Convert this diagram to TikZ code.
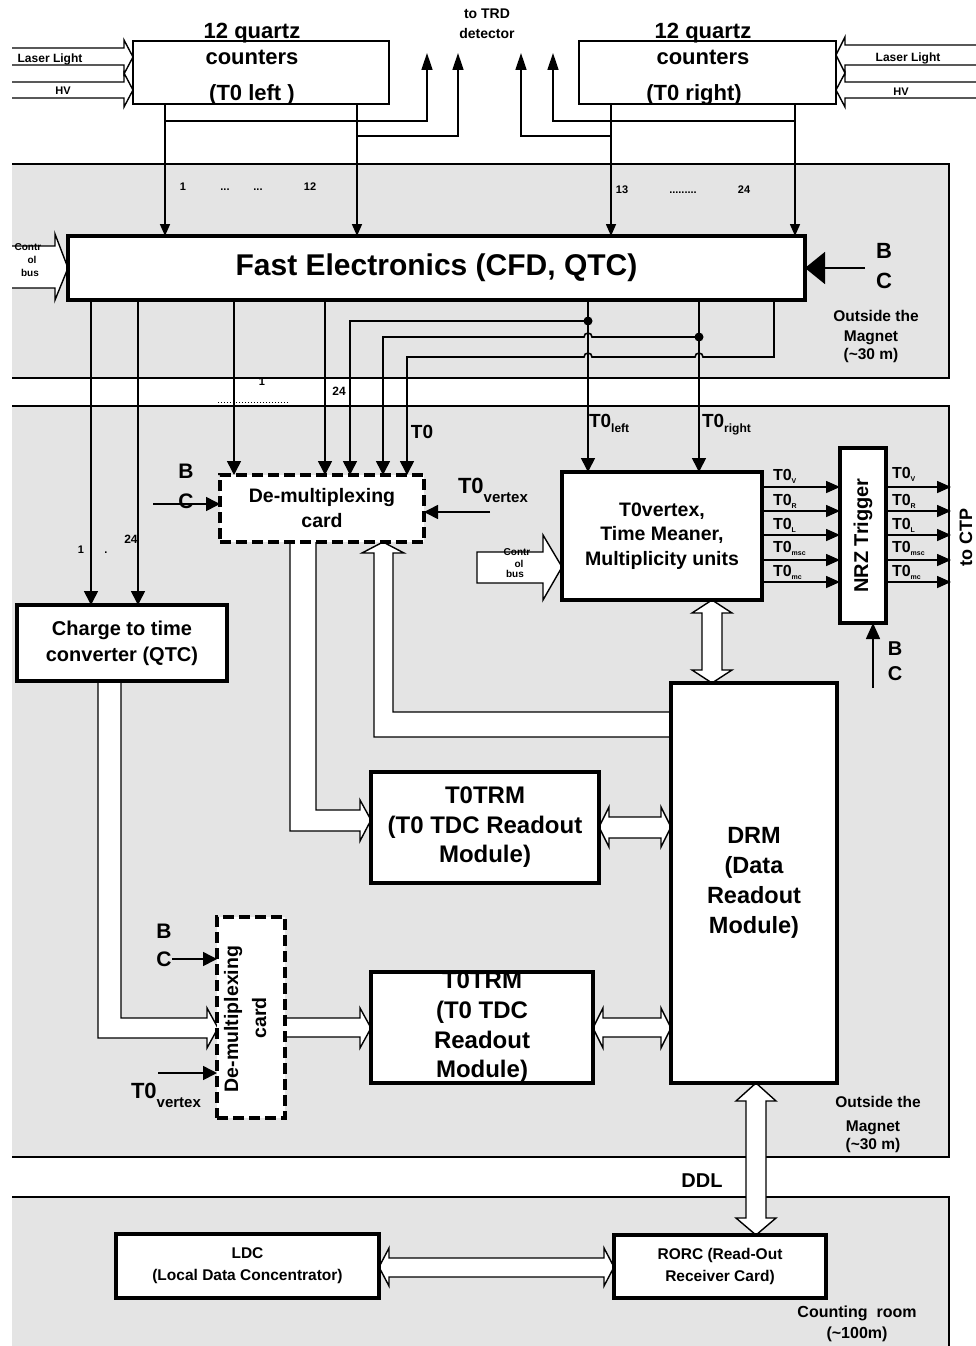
\documentclass[tikz,border=0pt]{standalone}
\usepackage{fontspec}
\setmainfont{Liberation Sans}
\usetikzlibrary{arrows.meta}
\pgfdeclarelayer{background}
\pgfsetlayers{background,main}
\newcommand{\fsz}[2]{\fontsize{#1}{#2}\selectfont}
\newcommand{\lo}[2]{\raisebox{-#1}{#2}}
\definecolor{panelgray}{HTML}{E4E4E4}
\begin{document}
\begin{tikzpicture}[x=1pt,y=-1pt,
  ln/.style={line width=1.6pt},
  arr/.style={ln,-{Triangle[length=12pt,width=10pt]}},
  arrb/.style={ln,-{Triangle[length=14pt,width=14pt]}},
  arro/.style={ln,-{Triangle[length=14pt,width=12pt]}},
  arrt/.style={ln,-{Triangle[length=17pt,width=11pt]}},
  fat/.style={draw,fill=white,line width=1.4pt,line join=miter},
  box/.style={draw,fill=white,line width=4.5pt,inner sep=0pt,outer sep=0pt,anchor=north west,align=center,font=\bfseries},
  qbox/.style={box,line width=1.5pt},
  dbox/.style={box,line width=4pt,dash pattern=on 11pt off 5pt},
  txt/.style={inner sep=0pt,outer sep=0pt,anchor=base,font=\bfseries},
  tsz/.style={font=\bfseries\fontsize{#1}{#1}\selectfont},
  tsztwo/.style 2 args={font=\bfseries\fontsize{#1}{#2}\selectfont},
]
\useasboundingbox (0,0) rectangle (976,1346);

% ---------- boxes ----------
\node[qbox,minimum width=256pt,minimum height=63pt] (ql) at (133,41) {};
\node[qbox,minimum width=257pt,minimum height=63pt] (qr) at (579,41) {};
\node[box,minimum width=737pt,minimum height=64pt,tsztwo={30}{30}] (fe) at (68,236) {Fast Electronics (CFD, QTC)};
\node[dbox,minimum width=204pt,minimum height=67pt,tsztwo={19.5}{25}] (dm1) at (220,475) {De-multiplexing\\card};
\node[box,minimum width=210pt,minimum height=76pt,tsztwo={20}{26}] (qtc) at (17,605) {Charge to time\\converter (QTC)};
\node[box,minimum width=200pt,minimum height=128pt,tsztwo={19.5}{24.5}] (tv) at (562,472) {T0vertex,\\Time Meaner,\\Multiplicity units};
\node[box,minimum width=46pt,minimum height=175pt,tsztwo={20}{20}] (nrz) at (840,448) {\rotatebox{90}{NRZ Trigger}};
\node[box,minimum width=166pt,minimum height=400pt,tsztwo={23.5}{30}] (drm) at (671,683) {DRM\\(Data\\Readout\\Module)};
\node[box,minimum width=228pt,minimum height=111pt,tsztwo={24}{29.5}] (trma) at (371,772) {T0TRM\\(T0 TDC Readout\\Module)};
\node[box,minimum width=222pt,minimum height=111pt,tsztwo={24}{29.7}] (trmb) at (371,972) {T0TRM\\(T0 TDC\\Readout\\Module)};
\node[dbox,minimum width=68pt,minimum height=201pt] (dm2) at (217,917) {};
\node[box,line width=4pt,minimum width=263pt,minimum height=64pt,tsztwo={15.5}{22}] (ldc) at (116,1234) {LDC\\(Local Data Concentrator)};
\node[box,line width=4pt,minimum width=212pt,minimum height=63pt,tsztwo={15.5}{22}] (rorc) at (614,1235) {RORC (Read-Out\\Receiver Card)};

\begin{pgfonlayer}{background}
% ---------- panels ----------
\fill[panelgray] (12,164) rectangle (949,378);
\draw[ln] (12,164) -- (949,164) -- (949,378) -- (12,378);
\fill[panelgray] (12,406) rectangle (949,1157);
\draw[ln] (12,406) -- (949,406) -- (949,1157) -- (12,1157);
\fill[panelgray] (12,1197) rectangle (949,1346);
\draw[ln] (12,1197) -- (949,1197) -- (949,1346);

% ---------- laser / HV ----------
\draw[fat] (12,48) -- (124,48) -- (124,40) -- (133,57) -- (124,74) -- (124,65) -- (12,65);
\draw[fat] (12,82) -- (124,82) -- (124,73) -- (133,90) -- (124,107) -- (124,98) -- (12,98);
\draw[fat] (976,45) -- (845,45) -- (845,37) -- (836,55) -- (845,73) -- (845,65) -- (976,65);
\draw[fat] (976,82) -- (845,82) -- (845,73) -- (836,90) -- (845,107) -- (845,98) -- (976,98);

% ---------- counters to FE and TRD ----------
\draw[arr] (165,0 |- ql.south) -- (165,0 |- fe.north);
\draw[arr] (357,0 |- ql.south) -- (357,0 |- fe.north);
\draw[arr] (611,0 |- qr.south) -- (611,0 |- fe.north);
\draw[arr] (795,0 |- qr.south) -- (795,0 |- fe.north);
\draw[arrt] (165,121) -- (427,121) -- (427,53);
\draw[arrt] (357,136) -- (458,136) -- (458,53);
\draw[arrt] (795,121) -- (553,121) -- (553,53);
\draw[arrt] (611,136) -- (521,136) -- (521,53);

% ---------- FE control bus, BC ----------
\draw[fat] (12,246) -- (55,246) -- (55,234) -- (fe.west) -- (55,300) -- (55,288) -- (12,288);
\draw[ln,-{Triangle[length=20pt,width=32pt]}] (865,268) -- (fe.east);

% ---------- FE outputs ----------
\draw[arrb] (91,0 |- fe.south) -- (91,0 |- qtc.north);
\draw[arrb] (138,0 |- fe.south) -- (138,0 |- qtc.north);
\draw[arrb] (234,0 |- fe.south) -- (234,0 |- dm1.north);
\draw[arrb] (325,0 |- fe.south) -- (325,0 |- dm1.north);
\draw[arrb] (588,321) -- (350,321) -- (350,0 |- dm1.north);
\draw[arrb] (699,337) -- (592,337) arc[start angle=0,end angle=-180,radius=4] -- (383,337) -- (383,0 |- dm1.north);
\draw[arrb] (774,0 |- fe.south) -- (774,357) -- (703,357) arc[start angle=0,end angle=-180,radius=4]
   -- (592,357) arc[start angle=0,end angle=-180,radius=4] -- (407,357) -- (407,0 |- dm1.north);
\draw[arrb] (588,0 |- fe.south) -- (588,0 |- tv.north);
\draw[arrb] (699,0 |- fe.south) -- (699,0 |- tv.north);
\fill (588,321) circle[radius=4.5pt];
\fill (699,337) circle[radius=4.5pt];
\draw[line width=1pt,dotted] (218,402) -- (288,402);

% ---------- demux 1 inputs ----------
\draw[arrb] (153,504) -- (220,504);
\draw[arrb] (490,512) -- (424,512);

% ---------- T0vertex ----------
\draw[fat] (477,552) -- (543,552) -- (543,535) -- (562,567) -- (543,600) -- (543,583) -- (477,583) -- cycle;
\foreach \yy in {487,511,535,560,582} {
  \draw[arro] (763,\yy) -- (840,\yy);
  \draw[arro] (886,\yy) -- (951,\yy);
}
\draw[ln,-{Triangle[length=16pt,width=14pt]}] (873,688) -- (873,0 |- nrz.south);
\draw[fat] (712,600) -- (732,613) -- (722,613) -- (722,670) -- (732,670) -- (712,683) -- (692,670) -- (702,670) -- (702,613) -- (692,613) -- cycle;

% ---------- wide buses ----------
\draw[fat] (671,712) -- (393,712) -- (393,553) -- (404,553) -- (383,542) -- (362,553) -- (374,553) -- (374,737) -- (671,737);
\draw[fat] (316,542) -- (316,810) -- (360,810) -- (360,800) -- (371,820) -- (360,841) -- (360,831) -- (290,831) -- (290,542);
\draw[fat] (599,827) -- (609,807) -- (609,817) -- (661,817) -- (661,807) -- (671,827) -- (661,847) -- (661,838) -- (609,838) -- (609,847) -- cycle;
\draw[fat] (121,681) -- (121,1018) -- (207,1018) -- (207,1008) -- (218,1028) -- (207,1048) -- (207,1038) -- (98,1038) -- (98,681);
\draw[fat] (285,1018) -- (360,1018) -- (360,1008) -- (371,1028) -- (360,1048) -- (360,1037) -- (285,1037);
\draw[fat] (593,1028) -- (603,1008) -- (603,1018) -- (661,1018) -- (661,1008) -- (671,1028) -- (661,1048) -- (661,1037) -- (603,1037) -- (603,1048) -- cycle;
\draw[arrb] (172,959) -- (217,959);
\draw[arrb] (158,1073) -- (217,1073);
\draw[fat] (756,1083) -- (776,1101) -- (766,1101) -- (766,1218) -- (776,1218) -- (756,1235) -- (736,1218) -- (746,1218) -- (746,1101) -- (736,1101) -- cycle;
\draw[fat] (379,1267) -- (389,1248) -- (389,1258) -- (604,1258) -- (604,1248) -- (614,1267) -- (604,1286) -- (604,1277) -- (389,1277) -- (389,1286) -- cycle;
\end{pgfonlayer}

% ---------- texts ----------
\node[txt,tsz=14] (trd1) at (487,19) {to TRD};
\node[txt,tsz=14] (trd2) at (487,38) {detector};
\node[txt,tsz=22] (qla) at (252,39) {12 quartz};
\node[txt,tsz=22] (qlb) at (252,65) {counters};
\node[txt,tsz=22] (qlc) at (252,100) {(T0 left )};
\node[txt,tsz=22] (qra) at (703,39) {12 quartz};
\node[txt,tsz=22] (qrb) at (703,65) {counters};
\node[txt,tsz=22] (qrc) at (694,100) {(T0 right)};
\node[txt,tsz=12] (lla) at (50,63) {Laser Light};
\node[txt,tsz=11] (hva) at (63,94) {HV};
\node[txt,tsz=12] (llb) at (908,62) {Laser Light};
\node[txt,tsz=11] (hvb) at (901,95) {HV};

\node[txt,tsz=11] (n1) at (183,190) {1};
\node[txt,tsz=11] (n2) at (225,190) {...};
\node[txt,tsz=11] (n3) at (258,190) {...};
\node[txt,tsz=11] (n4) at (310,190) {12};
\node[txt,tsz=11] (n5) at (622,193) {13};
\node[txt,tsz=11] (n6) at (683,193) {.........};
\node[txt,tsz=11] (n7) at (744,193) {24};

\node[txt,tsz=10] (cb1) at (28,250) {Contr};
\node[txt,tsz=10] (cb2) at (32,263) {ol};
\node[txt,tsz=10] (cb3) at (30,276) {bus};
\node[txt,tsz=22] (bc1b) at (884,258) {B};
\node[txt,tsz=22] (bc1c) at (884,288) {C};
\node[txt,tsz=15.5] (om1) at (876,321) {Outside the};
\node[txt,tsz=15.5] (om2) at (871,341) {Magnet};
\node[txt,tsz=15.5] (om3) at (871,359) {(\textasciitilde30 m)};

\node[txt,tsz=11] (g1) at (262,385) {1};
\node[txt,tsz=12] (g2) at (339,395) {24};
\node[txt,tsz=19] (t0a) at (422,438) {T0};
\node[txt,anchor=base west,tsz=19] (t0l) at (589,427) {T0\lo{5pt}{\fsz{12}{12}left}};
\node[txt,anchor=base west,tsz=19] (t0r) at (702,427) {T0\lo{5pt}{\fsz{12}{12}right}};

\node[txt,tsz=21] (bc2b) at (186,478) {B};
\node[txt,tsz=21] (bc2c) at (186,508) {C};
\node[txt,anchor=base west,tsz=22] (t0v1) at (458,493) {T0\lo{9pt}{\fsz{15}{15}vertex}};
\node[txt,tsz=11] (q1) at (81,553) {1};
\node[txt,tsz=11] (q2) at (106,553) {.};
\node[txt,tsz=12] (q3) at (131,543) {24};

\node[txt,tsz=10] (cb4) at (517,555) {Contr};
\node[txt,tsz=10] (cb5) at (519,567) {ol};
\node[txt,tsz=10] (cb6) at (515,577) {bus};

\node[txt,anchor=base west,tsz=16] (la1) at (773,480) {T0\lo{3pt}{\fsz{7}{7}V}};
\node[txt,anchor=base west,tsz=16] (la2) at (773,505) {T0\lo{3pt}{\fsz{7}{7}R}};
\node[txt,anchor=base west,tsz=16] (la3) at (773,529) {T0\lo{3pt}{\fsz{7}{7}L}};
\node[txt,anchor=base west,tsz=16] (la4) at (773,552) {T0\lo{3pt}{\fsz{7}{7}msc}};
\node[txt,anchor=base west,tsz=16] (la5) at (773,576) {T0\lo{3pt}{\fsz{7}{7}mc}};
\node[txt,anchor=base west,tsz=16] (lb1) at (892,478) {T0\lo{3pt}{\fsz{7}{7}V}};
\node[txt,anchor=base west,tsz=16] (lb2) at (892,505) {T0\lo{3pt}{\fsz{7}{7}R}};
\node[txt,anchor=base west,tsz=16] (lb3) at (892,529) {T0\lo{3pt}{\fsz{7}{7}L}};
\node[txt,anchor=base west,tsz=16] (lb4) at (892,552) {T0\lo{3pt}{\fsz{7}{7}msc}};
\node[txt,anchor=base west,tsz=16] (lb5) at (892,576) {T0\lo{3pt}{\fsz{7}{7}mc}};
\node[txt,anchor=center,rotate=90,tsz=18] (ctp) at (966,537) {to CTP};
\node[txt,tsz=20] (bc3b) at (895,655) {B};
\node[txt,tsz=20] (bc3c) at (895,680) {C};

\node[txt,rotate=90,tsz=19.5] (dm2a) at (238,1019) {De-multiplexing};
\node[txt,rotate=90,tsz=19.5] (dm2b) at (266,1018) {card};
\node[txt,tsz=21] (bc4b) at (164,938) {B};
\node[txt,tsz=21] (bc4c) at (164,966) {C};
\node[txt,anchor=base west,tsz=22] (t0v2) at (131,1098) {T0\lo{9pt}{\fsz{15}{15}vertex}};

\node[txt,tsz=20] (ddl) at (702,1187) {DDL};
\node[txt,tsz=15.5] (om4) at (878,1107) {Outside the};
\node[txt,tsz=15.5] (om5) at (873,1131) {Magnet};
\node[txt,tsz=15.5] (om6) at (873,1149) {(\textasciitilde30 m)};
\node[txt,tsz=16] (cr1) at (857,1317) {Counting\ \ room};
\node[txt,tsz=16] (cr2) at (857,1338) {(\textasciitilde100m)};
\end{tikzpicture}
\end{document}
